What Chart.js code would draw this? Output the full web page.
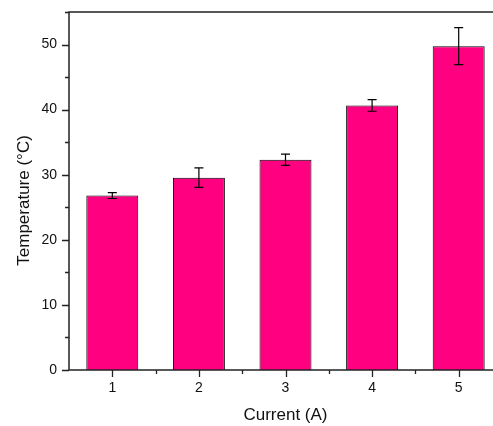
<!DOCTYPE html>
<html>
<head>
<meta charset="utf-8">
<script src="https://cdn.jsdelivr.net/npm/chart.js@4.4.0/dist/chart.umd.min.js"></script>
<style>
  html, body { margin: 0; padding: 0; background: #fff; overflow: hidden; }
  #wrap { width: 520px; height: 426px; }
</style>
</head>
<body>
<div id="wrap"><canvas id="canvas" width="520" height="426"></canvas></div>
<script>
// values
var currents = [1, 2, 3, 4, 5];
var temps = [26.8, 29.55, 32.3, 40.65, 49.75];
var tempErr = [0.45, 1.5, 0.85, 0.9, 2.85];

var axisColor = '#222';

// frame, tick marks and error bars
var extras = {
  id: 'extras',
  afterDatasetsDraw: function (chart) {
    var ctx = chart.ctx;
    var y = chart.scales.y;
    var meta = chart.getDatasetMeta(0);
    ctx.save();
    ctx.strokeStyle = '#000';
    ctx.lineWidth = 1.2;
    meta.data.forEach(function (bar, i) {
      var top = y.getPixelForValue(temps[i] + tempErr[i]);
      var bot = y.getPixelForValue(temps[i] - tempErr[i]);
      ctx.beginPath();
      ctx.moveTo(bar.x, top); ctx.lineTo(bar.x, bot);
      ctx.moveTo(bar.x - 4.5, top); ctx.lineTo(bar.x + 4.5, top);
      ctx.moveTo(bar.x - 4.5, bot); ctx.lineTo(bar.x + 4.5, bot);
      ctx.stroke();
    });
    ctx.restore();
  },
  afterDraw: function (chart) {
    var ctx = chart.ctx;
    var a = chart.chartArea;
    var x = chart.scales.x, y = chart.scales.y;
    ctx.save();
    ctx.strokeStyle = axisColor;
    ctx.lineWidth = 1.5;
    ctx.strokeRect(a.left, a.top, a.right - a.left, a.bottom - a.top);
    ctx.beginPath();
    y.ticks.forEach(function (t) {
      var py = Math.round(y.getPixelForValue(t.value)) + 0.5;
      var len = t.value % 10 === 0 ? 7 : 4;
      ctx.moveTo(a.left, py); ctx.lineTo(a.left - len, py);
    });
    x.ticks.forEach(function (t) {
      if (t.value <= x.min || t.value >= x.max) return;
      var px = Math.round(x.getPixelForValue(t.value)) + 0.5;
      var len = Number.isInteger(t.value) ? 7 : 4;
      ctx.moveTo(px, a.bottom); ctx.lineTo(px, a.bottom + len);
    });
    ctx.lineWidth = 1.3;
    ctx.stroke();
    ctx.restore();
  }
};

Chart.defaults.font.family = 'Arial, "Liberation Sans", sans-serif';
Chart.defaults.color = '#111';

new Chart(document.getElementById('canvas').getContext('2d'), {
  type: 'bar',
  data: {
    datasets: [{
      label: 'Temperature',
      data: currents.map(function (c, i) { return { x: c, y: temps[i] }; }),
      backgroundColor: '#ff0080',
      borderColor: '#000',
      borderWidth: 1,
      barPercentage: 1.2,
      categoryPercentage: 1
    }]
  },
  options: {
    responsive: false,
    animation: false,
    layout: { padding: { top: 12, right: 18, left: 0, bottom: 0 } },
    plugins: { legend: { display: false }, tooltip: { enabled: false } },
    scales: {
      x: {
        type: 'linear',
        min: 0.5,
        max: 5.5,
        offset: false,
        afterFit: function (s) { s.height = 56; s.paddingLeft = 0; s.paddingRight = 0; },
        grid: { display: false, drawTicks: false },
        border: { display: false },
        ticks: {
          stepSize: 0.5,
          padding: 10,
          font: { size: 14 },
          maxRotation: 0,
          autoSkip: false,
          callback: function (v) { return Number.isInteger(v) ? String(v) : ''; }
        },
        title: { display: true, text: 'Current (A)', font: { size: 17 }, padding: { top: 0, bottom: 0 } }
      },
      y: {
        min: 0,
        max: 55,
        afterFit: function (s) { s.width = 69; s.paddingTop = 0; s.paddingBottom = 0; },
        grid: { display: false, drawTicks: false },
        border: { display: false },
        ticks: {
          stepSize: 5,
          padding: 12,
          font: { size: 14 },
          autoSkip: false,
          callback: function (v) { return v % 10 === 0 ? String(v) : ''; }
        },
        title: { display: true, text: 'Temperature (°C)    ', font: { size: 17 }, padding: { top: 14, bottom: 0 } }
      }
    }
  },
  plugins: [extras]
});
</script>
</body>
</html>
